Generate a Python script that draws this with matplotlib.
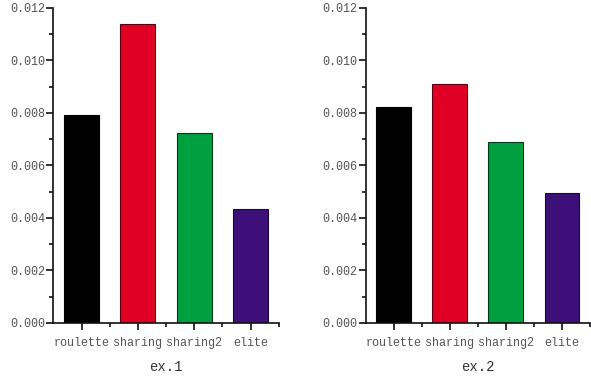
import matplotlib
matplotlib.use("Agg")
import matplotlib.pyplot as plt
from matplotlib.ticker import MultipleLocator, FixedLocator

categories = ["roulette", "sharing", "sharing2", "elite"]
ex1_values = [0.00792, 0.01139, 0.00724, 0.00434]
ex2_values = [0.00823, 0.00910, 0.00690, 0.00495]
titles = ["ex.1", "ex.2"]
colors = ["#000000", "#e00024", "#00a040", "#3c1078"]
edges = ["#000000", "#5a0010", "#003a18", "#1a0638"]

plt.rcParams['font.family'] = ['Liberation Mono', 'DejaVu Sans Mono']

fig = plt.figure(figsize=(5.91, 3.76), dpi=100)
positions = [[0.0905, 0.141, 0.381, 0.838], [0.6185, 0.141, 0.380, 0.838]]

for pos, vals, title in zip(positions, [ex1_values, ex2_values], titles):
    ax = fig.add_axes(pos)
    x = list(range(len(categories)))
    ax.bar(x, vals, width=0.62, color=colors, edgecolor=edges, linewidth=0.8, zorder=2)
    ax.set_xlim(-0.5, 3.5)
    ax.set_ylim(0, 0.012)
    ax.spines['top'].set_visible(False)
    ax.spines['right'].set_visible(False)
    for s in ['left', 'bottom']:
        ax.spines[s].set_linewidth(1.2)
        ax.spines[s].set_color('#111111')
    ax.yaxis.set_major_locator(MultipleLocator(0.002))
    ax.yaxis.set_minor_locator(MultipleLocator(0.001))
    ax.yaxis.set_major_formatter(matplotlib.ticker.FormatStrFormatter('%.3f'))
    ax.set_xticks(x)
    ax.set_xticklabels(categories)
    ax.xaxis.set_minor_locator(FixedLocator([0.5, 1.5, 2.5, 3.5]))
    ax.tick_params(axis='both', which='major', length=5, width=1.2, color='#111111',
                   labelsize=8.5, labelcolor='#555555', direction='out')
    ax.tick_params(axis='both', which='minor', length=3, width=1.2, color='#111111', direction='out')
    ax.tick_params(axis='x', which='major', pad=5)
    ax.tick_params(axis='y', which='major', pad=1)
    ax.set_xlabel(title, fontsize=10, color='#333333', labelpad=8)

fig.savefig("out.png", dpi=100)
